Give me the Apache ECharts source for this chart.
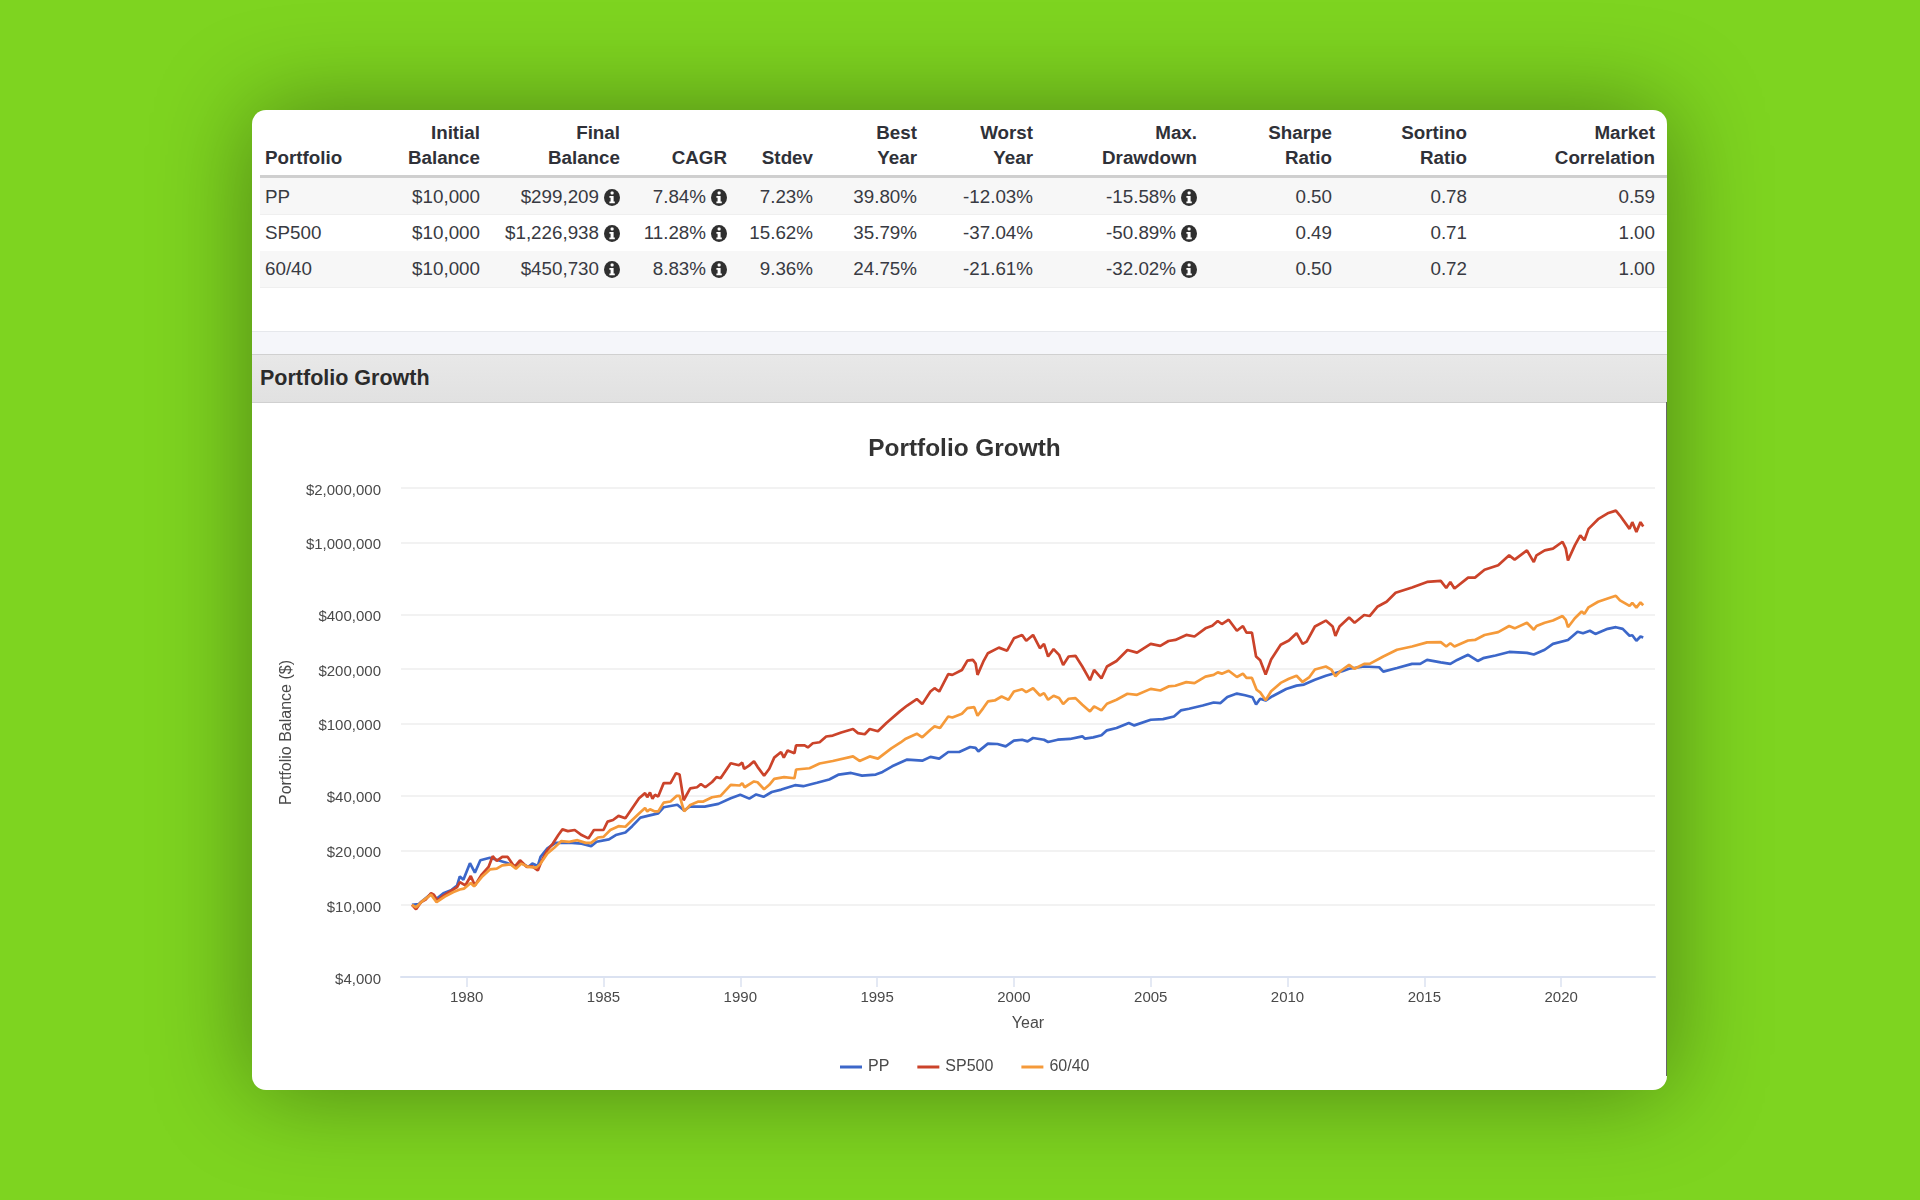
<!DOCTYPE html>
<html>
<head>
<meta charset="utf-8">
<title>Portfolio Growth</title>
<script src="https://cdn.jsdelivr.net/npm/echarts@6/dist/echarts.min.js"></script>
<style>
html, body { margin: 0; padding: 0; width: 1920px; height: 1200px; overflow: hidden; background: #7ed420; font-family: "Liberation Sans", Arial, sans-serif; color: #383a42; }
#card { position: absolute; left: 252px; top: 110px; width: 1415px; height: 980px; background: #fff; border-radius: 14px; box-shadow: 0 0 98px rgba(0, 0, 0, .38); overflow: hidden; }
#stats { position: absolute; left: 8px; top: 0; width: 1407px; }
.cell { position: absolute; white-space: nowrap; font-size: 18.8px; line-height: 24px; text-align: right; }
.head { font-weight: bold; color: #2f3138; }
.row { position: absolute; left: 0; width: 1407px; }
.icon { display: inline-block; width: 16px; height: 17px; margin-left: 5px; vertical-align: -2.5px; }
#rule { position: absolute; left: 8px; top: 65px; width: 1407px; height: 3px; background: #cfcfcf; }
#band { position: absolute; left: 0; top: 221px; width: 1415px; height: 23px; background: #f5f6fa; border-top: 1px solid #e6e8ec; }
#section { position: absolute; left: 0; top: 244px; width: 1415px; height: 47px; background: linear-gradient(#e8e8e8, #e1e1e1); border-top: 1px solid #d0d0d0; border-bottom: 1px solid #d0d0d0; font-weight: bold; font-size: 21.5px; line-height: 47px; color: #2b2b2b; text-indent: 8px; }
#edge { position: absolute; right: 0; top: 292px; width: 1px; height: 674px; background: #666; }
#chart { position: absolute; left: 0; top: 292px; width: 1415px; height: 688px; }
</style>
</head>
<body>
<div id="card">
  <div id="stats"></div>
  <div id="rule"></div>
  <div id="band"></div>
  <div id="section">Portfolio Growth</div>
  <div id="chart"></div>
  <div id="edge"></div>
</div>
<script>
const tableColumns = [
  ['', 'Portfolio'], ['Initial', 'Balance'], ['Final', 'Balance'], ['', 'CAGR'], ['', 'Stdev'], ['Best', 'Year'],
  ['Worst', 'Year'], ['Max.', 'Drawdown'], ['Sharpe', 'Ratio'], ['Sortino', 'Ratio'], ['Market', 'Correlation']
];
const tableRows = [
  ['PP', '$10,000', '$299,209', '7.84%', '7.23%', '39.80%', '-12.03%', '-15.58%', '0.50', '0.78', '0.59'],
  ['SP500', '$10,000', '$1,226,938', '11.28%', '15.62%', '35.79%', '-37.04%', '-50.89%', '0.49', '0.71', '1.00'],
  ['60/40', '$10,000', '$450,730', '8.83%', '9.36%', '24.75%', '-21.61%', '-32.02%', '0.50', '0.72', '1.00']
];
const iconColumns = [2, 3, 7];

const seriesNames = ['PP', 'SP500', '60/40'];
const seriesColors = ['#3c67c9', '#cb432a', '#f59a3a'];
const yTickValues = [4000, 10000, 20000, 40000, 100000, 200000, 400000, 1000000, 2000000];
const xTickValues = [1980, 1985, 1990, 1995, 2000, 2005, 2010, 2015, 2020];

const ppYears = [1978, 1978.25, 1978.4, 1978.7, 1978.9, 1979.15, 1979.45, 1979.65, 1979.75, 1979.88, 1980.12, 1980.3, 1980.5, 1980.85, 1981.15, 1981.45, 1981.75, 1982, 1982.25, 1982.4, 1982.6, 1982.7, 1982.95, 1983.25, 1983.55, 1983.85, 1984.2, 1984.55, 1984.75, 1985.2, 1985.45, 1985.8, 1986.05, 1986.35, 1986.65, 1987, 1987.2, 1987.7, 1987.95, 1988.15, 1988.7, 1989.2, 1989.65, 1990, 1990.33, 1990.58, 1990.85, 1991.15, 1991.5, 1992, 1992.3, 1992.8, 1993.25, 1993.6, 1994.05, 1994.45, 1994.95, 1995.2, 1995.55, 1996.1, 1996.65, 1996.95, 1997.27, 1997.6, 1998, 1998.4, 1998.6, 1998.7, 1999.05, 1999.4, 1999.7, 2000, 2000.3, 2000.5, 2000.7, 2001.1, 2001.25, 2001.6, 2002.05, 2002.5, 2002.6, 2002.9, 2003.2, 2003.4, 2003.75, 2004.2, 2004.4, 2005, 2005.45, 2005.85, 2006.1, 2006.4, 2006.9, 2007.3, 2007.55, 2007.8, 2008.15, 2008.45, 2008.72, 2008.85, 2009, 2009.2, 2009.45, 2009.95, 2010.33, 2010.6, 2011, 2011.4, 2011.75, 2012, 2012.25, 2012.8, 2013.35, 2013.5, 2014, 2014.55, 2014.85, 2015.1, 2015.6, 2015.95, 2016.2, 2016.6, 2016.95, 2017.15, 2017.6, 2018.1, 2018.75, 2019, 2019.4, 2019.7, 2020.25, 2020.6, 2020.8, 2021.05, 2021.25, 2021.7, 2022, 2022.25, 2022.5, 2022.6, 2022.75, 2022.9, 2023];
const ppValues = [10000, 10100, 10560, 11500, 10800, 11600, 12100, 12800, 14370, 13770, 17000, 15060, 17630, 18200, 17630, 17100, 16400, 17000, 16200, 16900, 16400, 18400, 20500, 22000, 22000, 22000, 21800, 21100, 22300, 23000, 24300, 25100, 27200, 30300, 31100, 32000, 34600, 35700, 33200, 34900, 34900, 36100, 38800, 40500, 38600, 40700, 39500, 42000, 43300, 45800, 45200, 47200, 49200, 52400, 53500, 51700, 52400, 54200, 58200, 63400, 62500, 65600, 64200, 69800, 69800, 74400, 73500, 70400, 77600, 77300, 75000, 80600, 81600, 79900, 83400, 81600, 79300, 81600, 82400, 85200, 82700, 84100, 86300, 91900, 94700, 100800, 97900, 105200, 106000, 109700, 118400, 121000, 126000, 131000, 130000, 140500, 146700, 143600, 140000, 127700, 137300, 134300, 141900, 155600, 162300, 164400, 175000, 184000, 190500, 195000, 201000, 207000, 205000, 194000, 203000, 214000, 214000, 225000, 218000, 214000, 225000, 240000, 222000, 230000, 238000, 249000, 246000, 241000, 256000, 276000, 290000, 322000, 316000, 326000, 313000, 334000, 341000, 334000, 306000, 308000, 287000, 303000, 299209];

const sp500Years = [1978, 1978.15, 1978.33, 1978.5, 1978.7, 1978.8, 1978.93, 1979.15, 1979.4, 1979.65, 1979.75, 1979.95, 1980.15, 1980.3, 1980.55, 1980.8, 1980.95, 1981.1, 1981.3, 1981.5, 1981.75, 1981.95, 1982.2, 1982.4, 1982.6, 1982.75, 1982.95, 1983.15, 1983.35, 1983.5, 1983.7, 1983.95, 1984.2, 1984.45, 1984.65, 1985, 1985.15, 1985.35, 1985.55, 1985.8, 1986.05, 1986.3, 1986.34, 1986.52, 1986.6, 1986.7, 1986.79, 1986.88, 1987, 1987.2, 1987.45, 1987.65, 1987.78, 1987.93, 1988.17, 1988.42, 1988.56, 1988.72, 1988.97, 1989.13, 1989.28, 1989.65, 1989.95, 1990.07, 1990.14, 1990.32, 1990.5, 1990.63, 1990.87, 1991.06, 1991.24, 1991.49, 1991.59, 1991.73, 1991.98, 1992.04, 1992.35, 1992.47, 1992.65, 1992.9, 1993.14, 1993.38, 1993.69, 1994.12, 1994.3, 1994.55, 1994.73, 1995.03, 1995.34, 1995.83, 1996.1, 1996.45, 1996.65, 1996.95, 1997.1, 1997.27, 1997.6, 1997.75, 1998.1, 1998.3, 1998.5, 1998.6, 1998.67, 1998.88, 1999.05, 1999.45, 1999.75, 2000, 2000.3, 2000.45, 2000.7, 2000.95, 2001.1, 2001.25, 2001.45, 2001.65, 2001.8, 2002, 2002.25, 2002.5, 2002.78, 2002.93, 2003.2, 2003.4, 2003.75, 2004.15, 2004.5, 2005, 2005.35, 2005.65, 2005.9, 2006.3, 2006.6, 2007, 2007.25, 2007.45, 2007.6, 2007.85, 2008.15, 2008.37, 2008.5, 2008.7, 2008.85, 2009, 2009.2, 2009.4, 2009.75, 2010.05, 2010.33, 2010.55, 2010.7, 2011, 2011.4, 2011.65, 2011.75, 2011.9, 2012.25, 2012.45, 2012.8, 2013, 2013.28, 2013.62, 2013.95, 2014.55, 2015.1, 2015.6, 2015.8, 2015.95, 2016.1, 2016.6, 2016.85, 2017.2, 2017.7, 2018.1, 2018.3, 2018.75, 2019, 2019.1, 2019.4, 2019.7, 2020.05, 2020.17, 2020.25, 2020.5, 2020.7, 2020.85, 2021, 2021.35, 2021.7, 2022, 2022.15, 2022.5, 2022.6, 2022.75, 2022.9, 2023];
const sp500Values = [10000, 9460, 10350, 10700, 11600, 11400, 10570, 11260, 11860, 12530, 13370, 12800, 14430, 12800, 14700, 16200, 18580, 17480, 18400, 18400, 16200, 17630, 16200, 16300, 15500, 17630, 20040, 21800, 24300, 26100, 25550, 25900, 24300, 23280, 25900, 25900, 28800, 29400, 31000, 30100, 34200, 38800, 38900, 41400, 39300, 41700, 38500, 40500, 39700, 47000, 47000, 53300, 52500, 37800, 44000, 44600, 46500, 44600, 47700, 50700, 50000, 60500, 59000, 61000, 56400, 58700, 62000, 57800, 51600, 56400, 65000, 69800, 65000, 71200, 68800, 76000, 76000, 74000, 78000, 79000, 85000, 86000, 89500, 93500, 88700, 87500, 93500, 90800, 101000, 117000, 126000, 136700, 128300, 150600, 157000, 150600, 187700, 186000, 198000, 223000, 225000, 215000, 186000, 220000, 245000, 263000, 253000, 296000, 309000, 287000, 309000, 261000, 276000, 235000, 258000, 240000, 211000, 235000, 237000, 207000, 174000, 198000, 178000, 207000, 222000, 255000, 247000, 276000, 269000, 286000, 290000, 309000, 303000, 336000, 347000, 369000, 355000, 375000, 326000, 346000, 318000, 318000, 235000, 224000, 187000, 226000, 273000, 288000, 316000, 276000, 284000, 344000, 371000, 344000, 305000, 344000, 386000, 361000, 398000, 393000, 442000, 471000, 528000, 565000, 606000, 614000, 561000, 606000, 558000, 640000, 640000, 707000, 750000, 850000, 805000, 905000, 780000, 850000, 905000, 925000, 1010000, 925000, 797000, 965000, 1095000, 1030000, 1190000, 1345000, 1450000, 1500000, 1410000, 1190000, 1296000, 1145000, 1296000, 1226938];

const mixYears = [1978, 1978.15, 1978.4, 1978.7, 1978.9, 1979.2, 1979.5, 1979.75, 1979.9, 1980.15, 1980.27, 1980.55, 1980.85, 1981.1, 1981.3, 1981.6, 1981.8, 1982, 1982.25, 1982.55, 1982.7, 1982.95, 1983.2, 1983.45, 1983.75, 1984.05, 1984.35, 1984.55, 1984.8, 1985, 1985.25, 1985.55, 1985.8, 1986.05, 1986.3, 1986.52, 1986.6, 1986.7, 1986.88, 1987, 1987.2, 1987.45, 1987.68, 1987.78, 1987.95, 1988.17, 1988.47, 1988.65, 1988.97, 1989.28, 1989.65, 1989.98, 1990.07, 1990.16, 1990.5, 1990.63, 1990.87, 1991.06, 1991.24, 1991.6, 1991.98, 1992.04, 1992.53, 1992.9, 1993.38, 1994.12, 1994.36, 1994.73, 1995.03, 1995.52, 1995.86, 1996.05, 1996.45, 1996.65, 1996.95, 1997.1, 1997.3, 1997.6, 1997.75, 1998.1, 1998.3, 1998.55, 1998.67, 1998.88, 1999.05, 1999.3, 1999.55, 1999.8, 2000, 2000.3, 2000.45, 2000.7, 2000.95, 2001.1, 2001.25, 2001.45, 2001.65, 2001.8, 2002, 2002.25, 2002.5, 2002.78, 2002.93, 2003.2, 2003.4, 2003.75, 2004.15, 2004.5, 2005, 2005.35, 2005.65, 2005.9, 2006.3, 2006.6, 2007, 2007.3, 2007.45, 2007.6, 2007.85, 2008.15, 2008.37, 2008.5, 2008.7, 2008.87, 2009, 2009.2, 2009.4, 2009.75, 2010.05, 2010.33, 2010.55, 2010.8, 2011, 2011.4, 2011.6, 2011.75, 2011.95, 2012.25, 2012.45, 2012.8, 2013, 2013.5, 2014, 2014.55, 2015.1, 2015.6, 2015.8, 2015.95, 2016.1, 2016.6, 2016.85, 2017.2, 2017.7, 2018.1, 2018.3, 2018.75, 2019, 2019.1, 2019.4, 2019.7, 2020.05, 2020.17, 2020.25, 2020.5, 2020.75, 2020.85, 2021, 2021.35, 2021.7, 2022, 2022.15, 2022.5, 2022.6, 2022.75, 2022.9, 2023];
const mixValues = [10000, 9700, 10560, 11400, 10350, 11100, 11750, 12160, 12300, 13200, 12650, 14250, 15700, 15850, 16540, 16750, 15850, 16900, 16200, 16060, 16900, 19200, 20700, 22480, 22300, 22760, 22000, 22000, 23550, 23750, 25900, 27200, 27000, 29400, 31940, 34300, 32800, 33700, 32800, 32800, 36700, 37200, 40000, 40000, 32800, 35600, 37200, 37200, 39300, 40000, 46000, 45600, 47000, 44600, 48000, 47500, 43500, 46000, 49600, 50700, 50000, 55900, 56800, 60300, 62300, 66000, 62300, 66000, 64200, 73100, 78800, 82700, 88100, 84100, 92700, 96700, 94700, 109700, 108300, 113500, 122000, 123500, 110700, 122000, 132700, 134400, 141300, 135600, 150600, 155000, 149400, 157000, 143200, 147500, 135600, 142700, 138500, 128300, 137400, 138500, 127200, 116900, 124600, 118400, 128900, 135600, 146300, 144400, 155700, 152600, 160600, 162000, 169700, 167500, 182000, 186000, 192000, 189000, 196000, 181000, 189000, 179000, 179000, 154000, 149000, 134800, 151000, 168000, 177000, 184000, 170000, 181000, 199000, 207000, 199000, 183000, 196000, 211000, 201000, 214000, 214000, 235000, 256000, 267000, 281000, 282000, 267000, 278000, 267000, 288000, 290000, 309000, 320000, 346000, 336000, 361000, 330000, 346000, 361000, 371000, 393000, 374000, 341000, 382000, 416000, 404000, 439000, 471000, 491000, 508000, 480000, 447000, 465000, 437000, 467000, 450730];

const infoIcon = '<svg class="icon" viewBox="0 0 16 17"><ellipse cx="8" cy="8.5" rx="8" ry="8.5" fill="#2f2f2f"/><rect x="6.6" y="2.6" width="3" height="3" rx="1" fill="#fff"/><path d="M5.4 6.9h4.2v5.6h1.2v1.8H5.4v-1.8h1.2V8.7H5.4z" fill="#fff"/></svg>';
const columnRight = [0, 220, 360, 467, 553, 657, 773, 937, 1072, 1207, 1395];
const rowTop = [68, 105, 141];
const rowMiddle = [87, 123, 159];
const stats = document.getElementById('stats');

rowTop.forEach((top, i) => {
  if (i !== 1) {
    const band = document.createElement('div');
    band.className = 'row';
    band.style.cssText = 'top:' + top + 'px;height:36px;background:#f7f7f7;border-bottom:1px solid #efefef';
    stats.appendChild(band);
  }
});

function addCell(text, col, middle, cls, withIcon) {
  const el = document.createElement('div');
  el.className = cls;
  el.innerHTML = text + (withIcon ? infoIcon : '');
  el.style.top = (middle - 12) + 'px';
  if (col === 0) el.style.left = '5px';
  else el.style.right = (1407 - columnRight[col]) + 'px';
  stats.appendChild(el);
}

tableColumns.forEach((lines, col) => {
  addCell(lines[0], col, 23, 'cell head');
  addCell(lines[1], col, 48, 'cell head');
});
tableRows.forEach((row, r) => {
  row.forEach((text, col) => addCell(text, col, rowMiddle[r], 'cell', iconColumns.includes(col)));
});

const seriesData = [
  ppYears.map((year, i) => [year, ppValues[i]]),
  sp500Years.map((year, i) => [year, sp500Values[i]]),
  mixYears.map((year, i) => [year, mixValues[i]])
];

const chart = echarts.init(document.getElementById('chart'));
chart.setOption({
  animation: false,
  textStyle: { fontFamily: '"Liberation Sans", Arial, sans-serif' },
  title: {
    text: 'Portfolio Growth',
    left: 707.5,
    top: 30,
    textAlign: 'center',
    textStyle: { fontSize: 24.4, fontWeight: 'bold', color: '#333' }
  },
  legend: {
    left: 583,
    top: 652,
    icon: 'rect',
    itemWidth: 22,
    itemHeight: 3,
    itemGap: 28,
    textStyle: { fontSize: 16, color: '#4a4a4a', padding: [0, 0, 0, 1] },
    data: seriesNames
  },
  grid: { left: 149, right: 12, top: 86, bottom: 113 },
  xAxis: {
    type: 'value',
    min: 1977.6,
    max: 2023.43,
    name: 'Year',
    nameLocation: 'middle',
    nameGap: 39,
    nameTextStyle: { fontSize: 16, color: '#4a4a4a' },
    splitLine: { show: false },
    axisLine: { lineStyle: { color: '#dbe2f1', width: 2 } },
    axisTick: { length: 10, lineStyle: { color: '#dbe2f1', width: 1.5 }, customValues: xTickValues },
    axisLabel: { fontSize: 15, color: '#4a4a4a', margin: 13, customValues: xTickValues, formatter: v => String(v) }
  },
  yAxis: {
    type: 'log',
    logBase: 10,
    min: 4000,
    max: 2000000,
    name: 'Portfolio Balance ($)',
    nameLocation: 'middle',
    nameGap: 105,
    nameTextStyle: { fontSize: 16, color: '#4a4a4a' },
    axisLine: { show: false },
    axisTick: { show: false, customValues: yTickValues },
    splitLine: { show: true, lineStyle: { color: '#eeeeee', width: 1.5 } },
    axisLabel: {
      margin: 20,
      customValues: yTickValues,
      formatter: v => '{v|$' + Math.round(v).toLocaleString('en-US') + '}',
      rich: { v: { fontSize: 15, color: '#4a4a4a', padding: [5, 0, 0, 0] } }
    }
  },
  series: seriesNames.map((name, i) => ({
    name: name,
    type: 'line',
    showSymbol: false,
    smooth: false,
    data: seriesData[i],
    itemStyle: { color: seriesColors[i] },
    lineStyle: { color: seriesColors[i], width: 2.7 }
  }))
});
</script>
</body>
</html>
